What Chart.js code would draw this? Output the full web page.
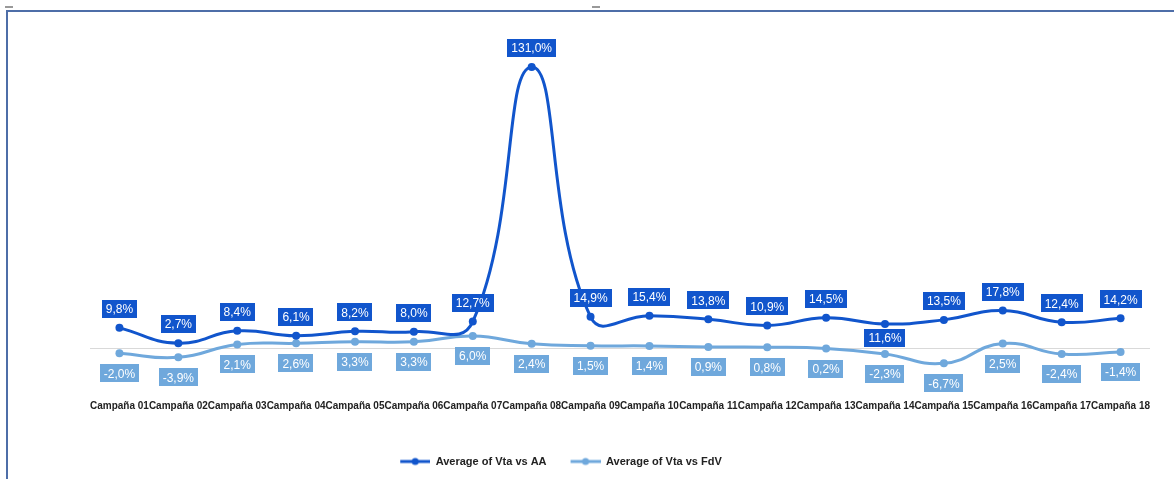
<!DOCTYPE html>
<html>
<head>
<meta charset="utf-8">
<script src="https://cdn.jsdelivr.net/npm/chart.js@4.4.1/dist/chart.umd.min.js"></script>
<style>
  html, body { margin: 0; padding: 0; background: #fff; }
  #wrap { position: relative; width: 1174px; height: 479px; overflow: hidden; }
  #frame { position: absolute; left: 6px; top: 10px; right: 0; bottom: -4px;
           border-top: 2px solid #4e6ea8; border-left: 2px solid #4e6ea8; pointer-events: none; }
  .dash { position: absolute; top: 6px; width: 8px; height: 2px; background: #999; }
</style>
</head>
<body>
<div id="wrap">
  <canvas id="chart" width="1174" height="479"></canvas>
  <div id="frame"></div>
  <div class="dash" style="left:5px"></div>
  <div class="dash" style="left:592px"></div>
</div>
<script>
// data
const campaigns = ['Campaña 01','Campaña 02','Campaña 03','Campaña 04','Campaña 05','Campaña 06',
  'Campaña 07','Campaña 08','Campaña 09','Campaña 10','Campaña 11','Campaña 12',
  'Campaña 13','Campaña 14','Campaña 15','Campaña 16','Campaña 17','Campaña 18'];
const vtaVsAA = [9.8, 2.7, 8.4, 6.1, 8.2, 8.0, 12.7, 131.0, 14.9, 15.4, 13.8, 10.9, 14.5, 11.6, 13.5, 17.8, 12.4, 14.2];
const vtaVsFdV = [-2.0, -3.9, 2.1, 2.6, 3.3, 3.3, 6.0, 2.4, 1.5, 1.4, 0.9, 0.8, 0.2, -2.3, -6.7, 2.5, -2.4, -1.4];

const darkBlue = '#1155cc';
const lightBlue = '#6fa8dc';

// where each value label sits relative to its point
const aaLabelSide = vtaVsAA.map((v, i) => i === 13 ? 'below' : 'above');
const fdvLabelSide = vtaVsFdV.map(() => 'below');

const fmt = v => v.toFixed(1).replace('.', ',') + '%';

// legend marker: a short line with a dot in the middle
function legendMark(color) {
  const c = document.createElement('canvas');
  c.width = 42; c.height = 10;
  const g = c.getContext('2d');
  g.strokeStyle = color; g.lineWidth = 3;
  g.beginPath(); g.moveTo(12, 5); g.lineTo(42, 5); g.stroke();
  g.fillStyle = color;
  g.beginPath(); g.arc(27, 5, 3.5, 0, Math.PI * 2); g.fill();
  return c;
}

const valueLabels = {
  id: 'valueLabels',
  afterDatasetsDraw(chart) {
    const ctx = chart.ctx;
    ctx.save();
    ctx.font = '12px "Liberation Sans", Arial, sans-serif';
    ctx.textAlign = 'center';
    ctx.textBaseline = 'middle';
    chart.data.datasets.forEach((ds, di) => {
      const meta = chart.getDatasetMeta(di);
      meta.data.forEach((pt, i) => {
        const txt = fmt(ds.data[i]);
        const w = ctx.measureText(txt).width + 8;
        const h = 18;
        const side = ds.labelSide[i];
        const cy = side === 'above' ? pt.y - 19 : pt.y + ds.belowOffset;
        ctx.fillStyle = ds.borderColor;
        ctx.fillRect(Math.round(pt.x - w / 2), Math.round(cy - h / 2), Math.round(w), h);
        ctx.fillStyle = '#fff';
        ctx.fillText(txt, pt.x, cy + 1);
      });
    });
    ctx.restore();
  }
};

const legendShift = {
  id: 'legendShift',
  afterLayout(chart) {
    chart.legend.left -= 20;
    chart.legend.right -= 20;
  }
};

new Chart(document.getElementById('chart'), {
  type: 'line',
  data: {
    labels: campaigns,
    datasets: [
      {
        label: 'Average of Vta vs AA',
        data: vtaVsAA,
        borderColor: darkBlue,
        backgroundColor: darkBlue,
        borderWidth: 3,
        pointRadius: 4,
        pointBackgroundColor: darkBlue,
        pointBorderWidth: 0,
        tension: 0.47,
        labelSide: aaLabelSide,
        belowOffset: 14,
        legendMark: legendMark(darkBlue)
      },
      {
        label: 'Average of Vta vs FdV',
        data: vtaVsFdV,
        borderColor: lightBlue,
        backgroundColor: lightBlue,
        borderWidth: 3,
        pointRadius: 4,
        pointBackgroundColor: lightBlue,
        pointBorderWidth: 0,
        tension: 0.47,
        labelSide: fdvLabelSide,
        belowOffset: 20,
        legendMark: legendMark(lightBlue)
      }
    ]
  },
  options: {
    responsive: false,
    animation: false,
    layout: { padding: { left: 0, right: 24, top: 26, bottom: 2 } },
    scales: {
      x: {
        offset: true,
        grid: { display: false, drawTicks: false },
        border: { display: false },
        ticks: {
          autoSkip: false, maxRotation: 0, padding: 8, color: '#222',
          font: { family: '"Liberation Sans", Arial, sans-serif', size: 10, weight: 'bold' }
        },
        afterFit(s) { s.height = 52; }
      },
      y: {
        min: -20, max: 150,
        ticks: { display: false, stepSize: 10 },
        border: { display: false },
        grid: {
          drawTicks: false,
          color: c => c.tick.value === 0 ? '#d9d9d9' : 'rgba(0,0,0,0)',
          lineWidth: 1
        },
        afterFit(s) { s.width = 90; }
      }
    },
    plugins: {
      tooltip: { enabled: false },
      legend: {
        position: 'bottom',
        labels: {
          usePointStyle: true,
          pointStyleWidth: 42,
          padding: 12,
          color: '#222',
          font: { family: '"Liberation Sans", Arial, sans-serif', size: 11, weight: 'bold' },
          generateLabels(chart) {
            return chart.data.datasets.map((ds, i) => ({
              text: ds.label,
              pointStyle: ds.legendMark,
              fillStyle: ds.borderColor,
              strokeStyle: ds.borderColor,
              lineWidth: 0,
              fontColor: '#222',
              hidden: false,
              datasetIndex: i
            }));
          }
        }
      }
    }
  },
  plugins: [valueLabels, legendShift]
});
</script>
</body>
</html>
